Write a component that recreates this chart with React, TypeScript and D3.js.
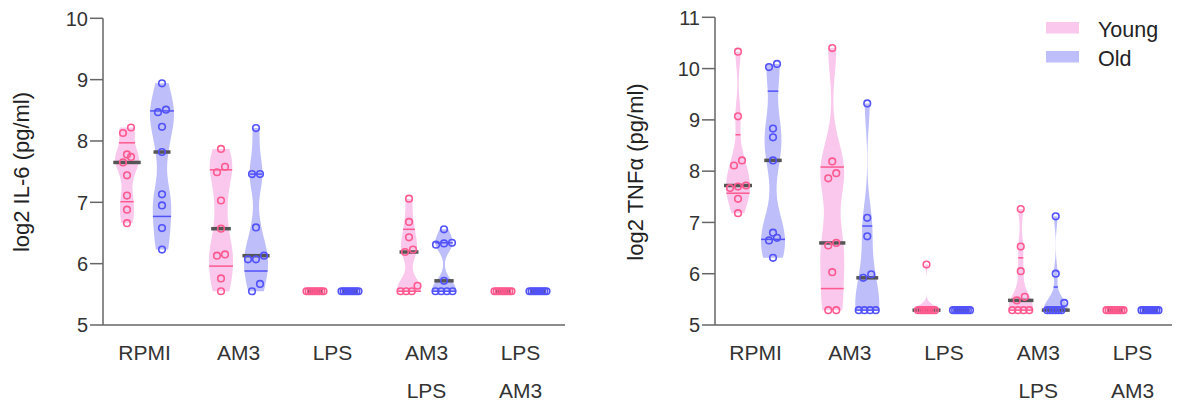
import React from "react";
import * as d3 from "d3";

// ---------- data ----------
const categories: string[][] = [["RPMI"], ["AM3"], ["LPS"], ["AM3", "LPS"], ["LPS", "AM3"]];
const groupNames = ["Young", "Old"];

const il6Young: number[][] = [
  [8.22, 8.13, 7.74, 7.78, 7.65, 7.44, 7.11, 6.88, 6.66],
  [7.87, 7.58, 7.49, 7.03, 6.57, 6.15, 6.13, 5.76, 5.55],
  [5.55, 5.55, 5.55, 5.55, 5.55, 5.55, 5.55, 5.55, 5.55],
  [7.06, 6.68, 6.43, 6.23, 6.19, 5.64, 5.55, 5.55, 5.55],
  [5.55, 5.55, 5.55, 5.55, 5.55, 5.55, 5.55, 5.55, 5.55],
];
const il6Old: number[][] = [
  [8.94, 8.51, 8.47, 8.23, 7.82, 7.13, 6.95, 6.58, 6.23],
  [8.21, 7.46, 7.46, 6.59, 6.13, 6.07, 6.07, 5.67, 5.55],
  [5.55, 5.55, 5.55, 5.55, 5.55, 5.55, 5.55, 5.55, 5.55],
  [6.56, 6.34, 6.33, 6.31, 5.72, 5.55, 5.55, 5.55, 5.55],
  [5.55, 5.55, 5.55, 5.55, 5.55, 5.55, 5.55, 5.55, 5.55],
];
const tnfYoung: number[][] = [
  [10.33, 9.07, 8.21, 8.11, 7.72, 7.70, 7.67, 7.46, 7.18],
  [10.40, 8.19, 7.96, 7.86, 6.60, 6.55, 6.03, 5.29, 5.29],
  [6.18, 5.29, 5.29, 5.29, 5.29, 5.29, 5.29, 5.29, 5.29],
  [7.26, 6.53, 6.05, 5.55, 5.48, 5.29, 5.29, 5.29, 5.29],
  [5.29, 5.29, 5.29, 5.29, 5.29, 5.29, 5.29, 5.29, 5.29],
];
const tnfOld: number[][] = [
  [10.09, 10.03, 8.83, 8.66, 8.21, 6.80, 6.70, 6.65, 6.31],
  [9.32, 7.09, 6.73, 5.99, 5.92, 5.29, 5.29, 5.29, 5.29],
  [5.29, 5.29, 5.29, 5.29, 5.29, 5.29, 5.29, 5.29, 5.29],
  [7.12, 6.00, 5.43, 5.29, 5.29, 5.29, 5.29, 5.29, 5.29],
  [5.29, 5.29, 5.29, 5.29, 5.29, 5.29, 5.29, 5.29, 5.29],
];

// quartiles [Q1, Q3]
const il6YoungQ: number[][] = [[7.01, 7.97], [5.96, 7.53], [5.55, 5.55], [5.55, 6.56], [5.55, 5.55]];
const il6OldQ: number[][] = [[6.77, 8.49], [5.88, 7.46], [5.55, 5.55], [5.55, 6.34], [5.55, 5.55]];
const tnfYoungQ: number[][] = [[7.57, 8.71], [5.71, 8.08], [5.29, 5.29], [5.29, 6.31], [5.29, 5.29]];
const tnfOldQ: number[][] = [[6.67, 9.56], [5.29, 6.93], [5.29, 5.29], [5.29, 5.74], [5.29, 5.29]];

const il6Ticks = [5, 6, 7, 8, 9, 10];
const tnfTicks = [5, 6, 7, 8, 9, 10, 11];

// ---------- style ----------
const FONT = "'Liberation Sans', Arial, Helvetica, sans-serif";
const fillColors = ["#f9c8ec", "#bebefa"];
const strokeColors = ["#ff5a8f", "#5252fa"];
const AXIS = "#666";
const TEXT = "#333";
const MEDIAN = "#555";
const MAX_HW = 12;
const GROUP_OFF = 17.5;

interface PanelProps {
  title: string;
  young: number[][];
  old: number[][];
  youngQ: number[][];
  oldQ: number[][];
  ticks: number[];
  axisX: number;
  axisEnd: number;
  center0: number;
  step: number;
  yTopPx: number;
  titleX: number;
}

function kde(values: number[]) {
  const n = values.length;
  const sd = d3.deviation(values) || 0;
  const bw = 0.5 * sd * Math.pow(n, -0.2);
  return (y: number) => d3.sum(values, (v) => Math.exp(-0.5 * ((y - v) / bw) ** 2));
}

function swarm(values: number[], y: (v: number) => number) {
  const sorted = values.map((v, i) => ({ v, i, py: y(v) })).sort((a, b) => b.py - a.py);
  const bins: typeof sorted[] = [];
  for (const p of sorted) {
    const last = bins[bins.length - 1];
    if (last && Math.abs(p.py - last[0].py) <= 7.5) last.push(p);
    else bins.push([p]);
  }
  const out: { v: number; py: number; dx: number }[] = [];
  for (const b of bins) {
    const n = b.length;
    const sp = n > 1 ? Math.min(8, 17 / (n - 1)) : 0;
    b.forEach((p, k) => out.push({ v: p.v, py: p.py, dx: (k - (n - 1) / 2) * sp }));
  }
  return out;
}

function Violin({ values, q, cx, y, gi }: { values: number[]; q: number[]; cx: number; y: d3.ScaleLinear<number, number>; gi: number }) {
  const lo = d3.min(values)!;
  const hi = d3.max(values)!;
  const med = d3.median(values)!;
  const hasViolin = hi - lo > 1e-6;
  let path: string | null = null;
  let hw = (_v: number) => 0;
  if (hasViolin) {
    const f = kde(values);
    const N = 160;
    const grid = d3.range(N + 1).map((i) => lo + ((hi - lo) * i) / N);
    const dens = grid.map(f);
    const dmax = d3.max(dens)!;
    hw = (v: number) => (MAX_HW * f(v)) / dmax;
    const area = d3
      .area<number>()
      .x0((_, i) => cx - (MAX_HW * dens[i]) / dmax)
      .x1((_, i) => cx + (MAX_HW * dens[i]) / dmax)
      .y((v) => y(v))
      .curve(d3.curveLinear);
    path = area(grid);
  }
  const pts = swarm(values, y);
  const mh = Math.max(hw(med) + 2, 8);
  return (
    <g>
      {path && <path d={path} fill={fillColors[gi]} stroke="none" />}
      {hasViolin &&
        q.map((qv, k) => (
          <line key={k} x1={cx - hw(qv)} x2={cx + hw(qv)} y1={y(qv)} y2={y(qv)} stroke={strokeColors[gi]} strokeWidth={1.5} />
        ))}
      <line x1={cx - mh} x2={cx + mh} y1={y(med)} y2={y(med)} stroke={MEDIAN} strokeWidth={3.5} />
      {pts.map((p, k) => (
        <circle key={k} cx={cx + p.dx} cy={p.py} r={3.3} fill="none" stroke={strokeColors[gi]} strokeWidth={1.6} />
      ))}
    </g>
  );
}

function Panel(props: PanelProps) {
  const { title, young, old, youngQ, oldQ, ticks, axisX, axisEnd, center0, step, yTopPx, titleX } = props;
  const y = d3.scaleLinear().domain([ticks[0], ticks[ticks.length - 1]]).range([325, yTopPx]);
  const x = d3
    .scaleBand<number>()
    .domain(categories.map((_, i) => i))
    .range([center0 - step / 2, center0 + step * (categories.length - 0.5)])
    .padding(0);
  const cxOf = (i: number) => x(i)! + x.bandwidth() / 2;
  const data = [young, old];
  const qs = [youngQ, oldQ];
  return (
    <g>
      {/* axes */}
      <line x1={axisX} x2={axisX} y1={y.range()[1]} y2={325} stroke={AXIS} strokeWidth={1.5} />
      <line x1={axisX} x2={axisEnd} y1={325} y2={325} stroke={AXIS} strokeWidth={1.5} />
      {ticks.map((t) => (
        <g key={t}>
          <line x1={axisX - 13} x2={axisX} y1={y(t)} y2={y(t)} stroke={AXIS} strokeWidth={1.5} />
          <text x={axisX - 15} y={y(t)} dy="0.36em" textAnchor="end" fontSize={20} fill={TEXT} fontFamily={FONT}>
            {t}
          </text>
        </g>
      ))}
      <text
        transform={`translate(${titleX},172) rotate(-90)`}
        textAnchor="middle"
        dy="0.35em"
        fontSize={22}
        fill="#222"
        fontFamily={FONT}
      >
        {title}
      </text>
      {categories.map((lines, i) => (
        <text key={i} x={cxOf(i)} textAnchor="middle" fontSize={21} fill={TEXT} fontFamily={FONT}>
          {lines.map((l, k) => (
            <tspan key={k} x={cxOf(i)} y={360 + k * 38}>
              {l}
            </tspan>
          ))}
        </text>
      ))}
      {categories.map((_, i) =>
        data.map((g, gi) => (
          <Violin
            key={`${i}-${gi}`}
            values={g[i]}
            q={qs[gi][i]}
            cx={cxOf(i) + (gi === 0 ? -GROUP_OFF : GROUP_OFF)}
            y={y}
            gi={gi}
          />
        ))
      )}
    </g>
  );
}

export default function App() {
  return (
    <svg width={1179} height={407} style={{ position: "absolute", left: 0, top: 0, background: "#fff" }}>
      <rect width={1179} height={407} fill="#fff" />
      <Panel
        title="log2 IL-6 (pg/ml)"
        young={il6Young}
        old={il6Old}
        youngQ={il6YoungQ}
        oldQ={il6OldQ}
        ticks={il6Ticks}
        axisX={103}
        axisEnd={565}
        center0={144.5}
        step={94}
        yTopPx={18.3}
        titleX={21}
      />
      <Panel
        title="log2 TNFα (pg/ml)"
        young={tnfYoung}
        old={tnfOld}
        youngQ={tnfYoungQ}
        oldQ={tnfOldQ}
        ticks={tnfTicks}
        axisX={715}
        axisEnd={1172}
        center0={755.5}
        step={94.25}
        yTopPx={17.3}
        titleX={635}
      />
      {/* legend */}
      {groupNames.map((g, gi) => (
        <g key={g}>
          <rect x={1046} y={22 + gi * 29} width={33} height={11.5} fill={fillColors[gi]} />
          <text x={1098} y={36.5 + gi * 29} fontSize={21.5} fill="#222" fontFamily={FONT}>
            {g}
          </text>
        </g>
      ))}
    </svg>
  );
}
